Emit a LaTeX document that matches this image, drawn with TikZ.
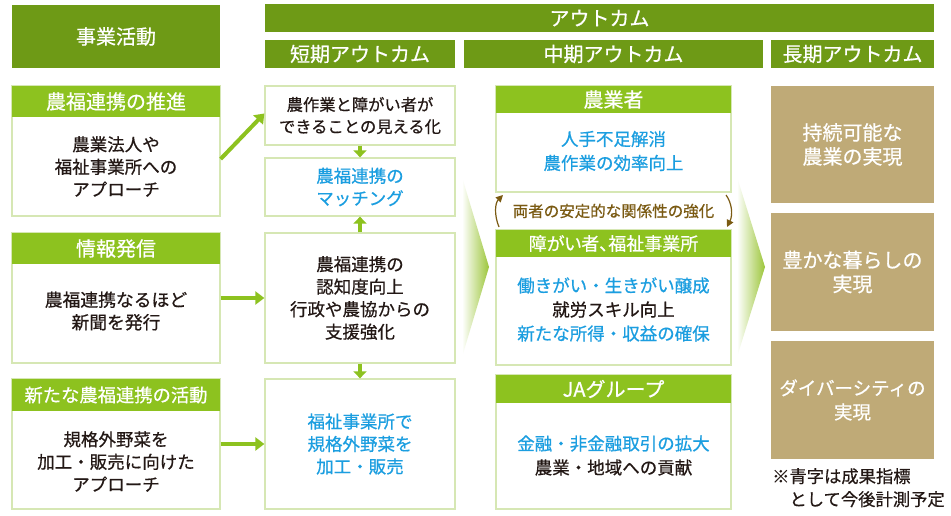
\documentclass[tikz,border=0pt]{standalone}
\usepackage{fontspec}
\setmainfont{Noto Sans CJK JP}[FakeBold=0.6]
\newfontfamily\pfont{Noto Sans CJK JP}[FakeBold=0.6,RawFeature=+palt]
\usetikzlibrary{arrows.meta,calc}
\definecolor{dkgreen}{HTML}{6E9A16}
\definecolor{ltgreen}{HTML}{8DC21F}
\definecolor{bordergreen}{HTML}{D6E7B4}
\definecolor{txtblue}{HTML}{1B9EE0}
\definecolor{txt}{HTML}{231815}
\definecolor{brownt}{HTML}{7A5A12}
\definecolor{tan}{HTML}{BFAA77}
\definecolor{chevgreen}{HTML}{9CC63A}
\begin{document}
\begin{tikzpicture}[x=1pt,y=-1pt,
  hdr/.style={fill=dkgreen,text=white,inner sep=0pt,align=center,font=\fontsize{20}{22}\selectfont},
  subhdr/.style={fill=ltgreen,text=white,inner sep=0pt,align=center,font=\fontsize{20}{22}\selectfont},
  bodybox/.style={draw=bordergreen,line width=1.3pt,fill=white,inner sep=0pt,align=center,text=txt,font=\fontsize{17.5}{22.5}\selectfont},
  midbody/.style={bodybox,font=\fontsize{17.5}{24}\selectfont},
  longbox/.style={fill=tan,text=white,inner sep=0pt,align=center,font=\fontsize{20}{24}\selectfont},
  garrow/.style={draw=ltgreen,line width=4pt,-{Triangle[width=13pt,length=9pt]}},
  barrow/.style={draw=brownt,line width=1.2pt,-{Triangle[width=7pt,length=7pt]}},
]
\useasboundingbox (0,0) rectangle (951,516);
\fill[white] (0,0) rectangle (951,516);

% headers
\node[hdr,minimum width=208,minimum height=63] (hAct) at (116,36.5) {事業活動};
\node[hdr,minimum width=669,minimum height=28] (hOut) at (599.5,18) {アウトカム};
\node[hdr,minimum width=190,minimum height=28] (hShort) at (360,54) {短期アウトカム};
\node[hdr,minimum width=299,minimum height=28] (hMid) at (613.5,54) {中期アウトカム};
\node[hdr,minimum width=163,minimum height=28] (hLong) at (852.5,54) {長期アウトカム};

% chevrons
\shade[left color=white,right color=chevgreen] (462,177) -- (489,267) -- (462,357) -- cycle;
\shade[left color=white,right color=chevgreen] (737,177) -- (765,267) -- (737,357) -- cycle;

% activity column
\node[bodybox,minimum width=208,minimum height=130] (aB1) at (116,151) {};
\node[subhdr,minimum width=208,minimum height=31] (aH1) at (116,101.5) {農福連携の推進};
\node[align=center,text=txt,font=\fontsize{17.5}{22.5}\selectfont] (aT1) at (116,166.5) {農業法人や\\福祉事業所への\\アプローチ};

\node[bodybox,minimum width=208,minimum height=130] (aB2) at (116,298) {};
\node[subhdr,minimum width=208,minimum height=31] (aH2) at (116,248.5) {情報発信};
\node[align=center,text=txt,font=\fontsize{17.8}{22.5}\selectfont] (aT2) at (116,311) {農福連携なるほど\\新聞を発行};

\node[bodybox,minimum width=208,minimum height=130] (aB3) at (116,444) {};
\node[subhdr,minimum width=208,minimum height=32,font=\fontsize{18.3}{22}\selectfont] (aH3) at (116,395) {新たな農福連携の活動};
\node[align=center,text=txt,font=\fontsize{17.5}{22.5}\selectfont] (aT3) at (116,461.5) {規格外野菜を\\加工・販売に向けた\\アプローチ};

% short-term column
\node[bodybox,minimum width=190,minimum height=59,font=\fontsize{16.3}{22}\selectfont] (s1) at (360,115.5) {農作業と障がい者が\\できることの見える化};
\node[bodybox,minimum width=190,minimum height=58,text=txtblue] (s2) at (360,187) {農福連携の\\マッチング};
\node[bodybox,minimum width=190,minimum height=130] (s3) at (360,298) {農福連携の\\認知度向上\\行政や農協からの\\支援強化};
\node[bodybox,minimum width=190,minimum height=130,text=txtblue] (s4) at (360,444) {福祉事業所で\\規格外野菜を\\加工・販売};

% mid-term column
\node[midbody,minimum width=235,minimum height=106] (m1b) at (613.5,139) {};
\node[subhdr,minimum width=235,minimum height=27] (m1h) at (613.5,99.5) {農業者};
\node[align=center,text=txtblue,font=\fontsize{17.5}{24}\selectfont] (m1t) at (613.5,151) {人手不足解消\\農作業の効率向上};

\node[midbody,minimum width=235,minimum height=135] (m2b) at (613.5,297.5) {};
\node[subhdr,minimum width=235,minimum height=27,font=\pfont\fontsize{18}{22}\selectfont] (m2h) at (613.5,243.5) {障がい者、福祉事業所};
\node[align=center,text=txt,font=\fontsize{17.5}{24}\selectfont] (m2t) at (613.5,309.5) {\textcolor{txtblue}{働きがい・生きがい醸成}\\就労スキル向上\\\textcolor{txtblue}{新たな所得・収益の確保}};

\node[midbody,minimum width=235,minimum height=134] (m3b) at (613.5,442) {};
\node[subhdr,minimum width=235,minimum height=28] (m3h) at (613.5,389) {JAグループ};
\node[align=center,text=txt,font=\fontsize{17.5}{24}\selectfont] (m3t) at (613.5,455.5) {\textcolor{txtblue}{金融・非金融取引の拡大}\\農業・地域への貢献};

\node[text=brownt,inner sep=0pt,font=\fontsize{15.5}{18}\selectfont] (rel) at (613.5,211) {両者の安定的な関係性の強化};
\coordinate (la) at (499,227);
\coordinate (lb) at (503,195);
\coordinate (ra) at (726,195);
\coordinate (rb) at (727,227);
\draw[barrow] (la) .. controls (494,215) and (495,203) .. (lb);
\draw[barrow] (ra) .. controls (732,203) and (733,215) .. (rb);

% long-term column
\node[longbox,minimum width=163,minimum height=117] (l1) at (852.5,144.5) {持続可能な\\農業の実現};
\node[longbox,minimum width=163,minimum height=118] (l2) at (852.5,272) {豊かな暮らしの\\実現};
\node[longbox,minimum width=163,minimum height=118,font=\fontsize{18.5}{24}\selectfont] (l3) at (852.5,400) {ダイバーシティの\\実現};
\node[anchor=north west,inner sep=0pt,align=left,text=txt,font=\fontsize{17.3}{23}\selectfont] (note) at (772,468) {※青字は成果指標\\\hspace{1em}として今後計測予定};

% arrows
\draw[garrow] ([yshift=7.5pt]aB1.east |- aT1.east) -- ([yshift=2pt]s1.west);
\draw[garrow] (aB2.east |- s3.west) -- (s3.west);
\draw[garrow] (aB3.east |- s4.west) -- (s4.west);
\draw[garrow,-{Triangle[width=13pt,length=7pt]}] (s1.south) -- (s2.north);
\draw[garrow,-{Triangle[width=13pt,length=7pt]}] (s3.north) -- (s2.south);
\draw[garrow,-{Triangle[width=13pt,length=7pt]}] (s3.south) -- (s4.north);
\end{tikzpicture}
\end{document}
